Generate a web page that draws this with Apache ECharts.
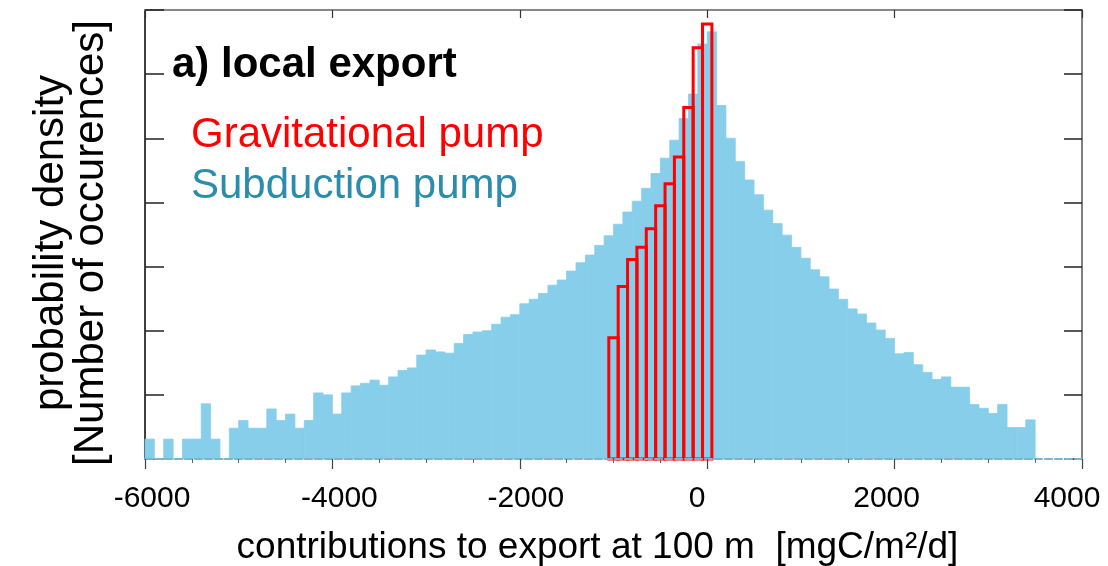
<!DOCTYPE html>
<html><head><meta charset="utf-8">
<script src="https://cdn.jsdelivr.net/npm/echarts@6/dist/echarts.min.js"></script>
<style>html,body{margin:0;padding:0;background:#fff}#c{width:1108px;height:566px}</style>
</head><body><div id="c"></div>
<script>
const FONT = '"Liberation Sans", Arial, Helvetica, sans-serif';

// x tick values (labels shown on bottom axis)
const xTickValues = [-6000, -4000, -2000, 0, 2000, 4000];

// Subduction pump histogram: left edge of each 100-wide bin
const blueBinLeft = [-6000,-5900,-5800,-5700,-5600,-5500,-5400,-5300,-5200,-5100,
  -5000,-4900,-4800,-4700,-4600,-4500,-4400,-4300,-4200,-4100,
  -4000,-3900,-3800,-3700,-3600,-3500,-3400,-3300,-3200,-3100,
  -3000,-2900,-2800,-2700,-2600,-2500,-2400,-2300,-2200,-2100,
  -2000,-1900,-1800,-1700,-1600,-1500,-1400,-1300,-1200,-1100,
  -1000,-900,-800,-700,-600,-500,-400,-300,-200,-100,
  0,100,200,300,400,500,600,700,800,900,
  1000,1100,1200,1300,1400,1500,1600,1700,1800,1900,
  2000,2100,2200,2300,2400,2500,2600,2700,2800,2900,
  3000,3100,3200,3300,3400];
// Subduction pump density (in y-tick units)
const blueDensity = [0.31,0,0.31,0,0.31,0.31,0.86,0.31,0,0.48,
  0.60,0.48,0.48,0.78,0.60,0.70,0.48,0.60,1.03,1.00,
  0.70,1.03,1.14,1.18,1.23,1.15,1.28,1.38,1.42,1.62,
  1.70,1.67,1.65,1.80,1.94,1.98,2.00,2.10,2.21,2.25,
  2.42,2.49,2.58,2.71,2.79,2.93,3.06,3.18,3.33,3.48,
  3.66,3.85,4.02,4.22,4.45,4.69,4.97,5.31,5.69,6.47,
  6.66,5.51,5.00,4.64,4.35,4.12,3.88,3.67,3.49,3.30,
  3.13,2.95,2.84,2.65,2.49,2.34,2.26,2.12,2.01,1.88,
  1.64,1.66,1.47,1.35,1.24,1.28,1.12,1.12,0.85,0.79,
  0.71,0.85,0.49,0.49,0.61];

// Gravitational pump histogram
const redBinLeft = [-1050,-950,-850,-750,-650,-550,-450,-350,-250,-150,-50];
const redDensity = [1.89,2.69,3.11,3.30,3.59,3.95,4.29,4.71,5.48,6.41,6.78];

const binWidth = 100;

// horizontal nudge (px) of each tick label, as in the reference typesetting
const labelShiftPx = [7, 7, 6, -10, -8, -15];

const blueData = blueBinLeft.map((l, i) => [l, l + binWidth, blueDensity[i]]);
const redData = redBinLeft.map((l, i) => [l, l + binWidth, redDensity[i]]);

const labelRich = {};
labelShiftPx.forEach((s, i) => {
  labelRich['t' + i] = {
    fontSize: 30, color: '#000', fontFamily: FONT,
    padding: [0, s < 0 ? -2 * s : 0, 0, s > 0 ? 2 * s : 0]
  };
});

function makeRender(style) {
  return function (params, api) {
    const a = api.coord([api.value(0), api.value(2)]);
    const b = api.coord([api.value(1), 0]);
    return {
      type: 'rect',
      shape: { x: a[0], y: a[1], width: b[0] - a[0], height: b[1] - a[1] },
      style: style
    };
  };
}

const chart = echarts.init(document.getElementById('c'), null, { renderer: 'canvas' });
chart.setOption({
  animation: false,
  backgroundColor: '#fff',
  grid: { left: 145, top: 10, width: 937, height: 449, containLabel: false, outerBoundsMode: 'none' },
  xAxis: [{
    type: 'value', position: 'bottom', min: -6000, max: 4000, interval: 2000, z: 5,
    axisLine: { show: true, onZero: false, lineStyle: { color: '#7db4cd', width: 2, type: [7, 3] } },
    axisTick: { show: true, length: 10, lineStyle: { color: '#444', width: 1.2 } },
    minorTick: { show: true, splitNumber: 4, length: 4, lineStyle: { color: '#666', width: 1 } },
    axisLabel: { fontSize: 30, color: '#000', margin: 25, fontFamily: FONT,
      formatter: v => {
        const i = xTickValues.indexOf(v);
        return i >= 0 ? '{t' + i + '|' + v + '}' : '';
      },
      rich: labelRich },
    splitLine: { show: false },
    name: 'contributions to export at 100 m  [mgC/m²/d]',
    nameLocation: 'middle', nameGap: 70,
    nameTextStyle: { fontSize: 37, color: '#000', fontFamily: FONT, padding: [0, 32, 0, 0] }
  }, {
    type: 'value', position: 'top', min: -6000, max: 4000, interval: 2000,
    axisLine: { show: true, onZero: false, lineStyle: { color: '#888', width: 2 } },
    axisTick: { show: true, inside: true, length: 8, lineStyle: { color: '#333', width: 1.2 } },
    axisLabel: { show: false }, splitLine: { show: false }
  }],
  yAxis: [{
    type: 'value', position: 'left', min: 0, max: 7, interval: 1,
    axisLine: { show: true, onZero: false, lineStyle: { color: '#000', width: 1.5 } },
    axisTick: { show: true, inside: true, length: 19, lineStyle: { color: '#222', width: 1.5 } },
    axisLabel: { show: false }, splitLine: { show: false }
  }, {
    type: 'value', position: 'right', min: 0, max: 7, interval: 1,
    axisLine: { show: true, onZero: false, lineStyle: { color: '#808080', width: 2 } },
    axisTick: { show: true, inside: true, length: 18, lineStyle: { color: '#222', width: 1.5 } },
    axisLabel: { show: false }, splitLine: { show: false }
  }],
  series: [{
    name: 'Subduction pump', type: 'custom', xAxisIndex: 0, yAxisIndex: 0,
    renderItem: makeRender({ fill: '#87CEEB', stroke: '#87CEEB', lineWidth: 0.8 }),
    encode: { x: [0, 1], y: 2 },
    data: blueData, z: 2
  }, {
    name: 'Gravitational pump', type: 'custom', xAxisIndex: 0, yAxisIndex: 0,
    renderItem: makeRender({ fill: 'none', stroke: '#ff0000', lineWidth: 3 }),
    encode: { x: [0, 1], y: 2 },
    data: redData, z: 3
  }],
  graphic: [
    { type: 'text', x: 172, y: 65, z: 10,
      style: { text: 'a) local export', font: 'bold 42px ' + FONT, fill: '#000', textAlign: 'left', textVerticalAlign: 'middle' } },
    { type: 'text', x: 191, y: 135, z: 10,
      style: { text: 'Gravitational pump', font: '42px ' + FONT, fill: '#ff0000', textAlign: 'left', textVerticalAlign: 'middle' } },
    { type: 'text', x: 191, y: 186, z: 10,
      style: { text: 'Subduction pump', font: '42px ' + FONT, fill: '#2b8cab', textAlign: 'left', textVerticalAlign: 'middle' } },
    { type: 'text', x: 71, y: 243, rotation: Math.PI / 2, z: 10,
      style: { text: 'probability density\n[Number of occurences]', font: '42px ' + FONT, lineHeight: 40,
        fill: '#000', textAlign: 'center', textVerticalAlign: 'middle' } }
  ]
});
</script>
</body></html>
